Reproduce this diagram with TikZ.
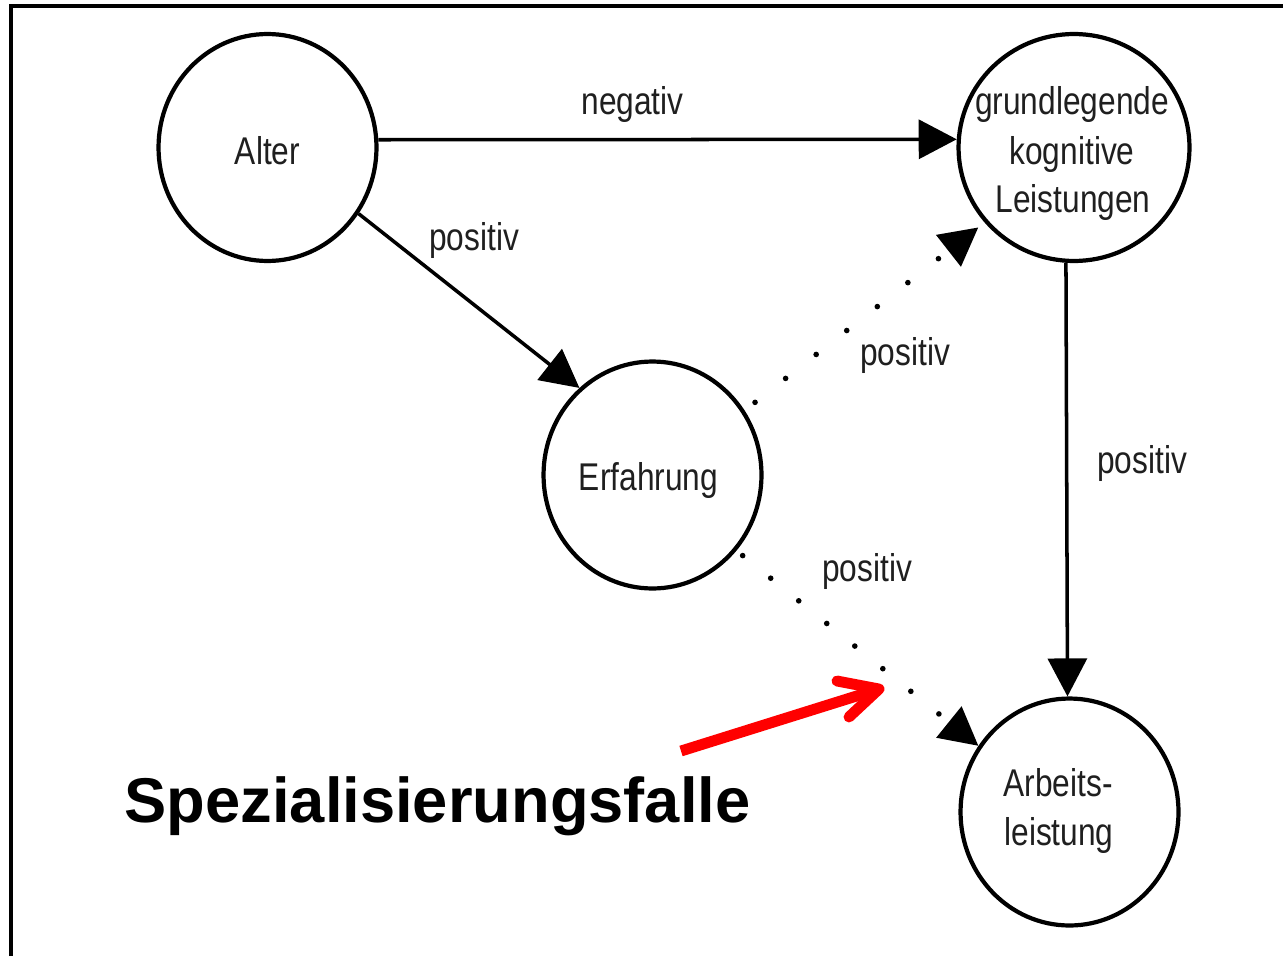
\documentclass[tikz,border=0pt]{standalone}
\usepackage{fontspec}
\setmainfont{Liberation Sans}
\newfontfamily\condfont[FakeStretch=0.82]{Liberation Sans}
\usetikzlibrary{arrows.meta,shapes.geometric}
\begin{document}
\begin{tikzpicture}[x=0.02cm,y=-0.02cm,
  bubble/.style={ellipse, draw, line width=2.4pt, minimum width=4.36cm, minimum height=4.54cm, inner sep=0pt},
  txt/.style={font=\condfont\fontsize{22}{28}\selectfont, text=black!88, inner sep=0pt, anchor=base},
  conn/.style={line width=2pt, -{Triangle[length=0.76cm,width=0.78cm]}},
  dotconn/.style={conn, line width=3.2pt, line cap=round},
  framestyle/.style={line width=2.4pt, line join=miter},
  redarrow/.style={draw=red, line width=6.2pt, line join=round}
]
\useasboundingbox (0,0) rectangle (1283,956);

% frame
\coordinate (fbl) at (11,956);
\coordinate (ftl) at (11,6.3);
\coordinate (ftr) at (1283,6.3);
\draw[framestyle] (fbl) -- (ftl) -- (ftr);

% circles
\node[bubble] (Alter) at (267.5,147.5) {};
\node[bubble, minimum width=4.62cm] (grund) at (1074,147.5) {};
\node[bubble] (Erf) at (652.5,475) {};
\node[bubble] (Arb) at (1069.5,812) {};

% circle texts
\node[txt] (tAlter) at (267.5,165) {Alter};
\node[txt] (tg1) at (1072,115) {grundlegende};
\node[txt] (tg2) at (1072,165) {kognitive};
\node[txt] (tg3) at (1073,213) {Leistungen};
\node[txt] (tErf) at (648.5,490) {Erfahrung};
\node[txt] (ta1) at (1058,796) {Arbeits-};
\node[txt] (ta2) at (1059,845) {leistung};

% connectors
\draw[conn] (Alter.4) -- (grund.176);
\draw[conn] (Alter.-36) -- (Erf.130);
\draw[conn] (grund.266.5) -- (Arb.91.3);
\draw[dotconn, dash pattern=on 0pt off 22.1pt, dash phase=14.6pt, shorten >=4.5pt] (Erf.35.8) -- (grund.220);
\draw[dotconn, dash pattern=on 0pt off 20.5pt, dash phase=16pt] (Erf.-42) -- (Arb.144);

% labels
\node[txt] (lneg) at (632.5,115) {negativ};
\node[txt] (lp1) at (474,250) {positiv};
\node[txt] (lp2) at (905,365) {positiv};
\node[txt] (lp3) at (1142,473) {positiv};
\node[txt] (lp4) at (867,581) {positiv};

% highlight
\node[font=\bfseries\fontsize{36}{40}\selectfont, inner sep=0pt, anchor=base] (spez) at (437.5,822) {Spezialisierungsfalle};
\coordinate (redstart) at (681,751);
\coordinate (redtip) at (879,689);
\coordinate (redarm1) at (837,681);
\coordinate (redarm2) at (849,717);
\draw[redarrow, line cap=butt] (redstart) -- (redtip);
\draw[redarrow, line cap=round] (redarm1) -- (redtip) -- (redarm2);
\end{tikzpicture}
\end{document}
